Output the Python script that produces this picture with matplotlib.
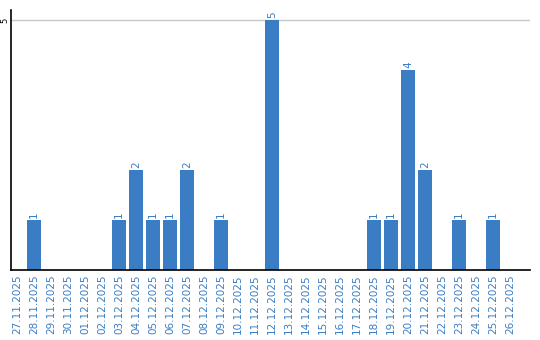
import numpy as np
import pandas as pd
import matplotlib
matplotlib.use("Agg")
import matplotlib.pyplot as plt

# daily counts, 27.11.2025 .. 26.12.2025
dates = pd.date_range("2025-11-27", "2025-12-26", freq="D")
labels = [d.strftime("%d.%m.%Y") for d in dates]
counts = [0, 1, 0, 0, 0, 0, 1, 2, 1, 1, 2, 0, 1, 0, 0, 5,
          0, 0, 0, 0, 0, 1, 1, 4, 2, 0, 1, 0, 1, 0]

blue = "#3b7dc4"

fig = plt.figure(figsize=(5.4, 3.4), dpi=100)
ax = fig.add_axes([11 / 540, 1 - 270 / 340, 519 / 540, 260 / 340])

x = np.arange(len(labels))
bars = ax.bar(x, counts, width=0.82, color=blue, zorder=2)

# value labels above non-empty bars
for xi, v in zip(x, counts):
    if v > 0:
        ax.text(xi, v + 0.04, str(v), rotation=90, ha="center", va="bottom",
                color=blue, fontsize=7.5)

ax.set_xlim(-0.35, len(labels) - 1 + 1.18)
ax.set_ylim(0, 5.2)
ax.set_xticks(x)
ax.set_xticklabels(labels, rotation=90, color=blue, fontsize=7.5)
ax.set_yticks([5])
ax.set_yticklabels(["5"], rotation=90, va="center", fontsize=6)
ax.tick_params(axis="both", length=0, pad=3)
ax.tick_params(axis="y", pad=1)

ax.grid(axis="y", color="#c8c8c8", linewidth=1, zorder=0)
ax.spines["top"].set_visible(False)
ax.spines["right"].set_visible(False)
ax.spines["left"].set_linewidth(1.2)
ax.spines["bottom"].set_linewidth(1.2)

fig.savefig("out.png", dpi=100)
